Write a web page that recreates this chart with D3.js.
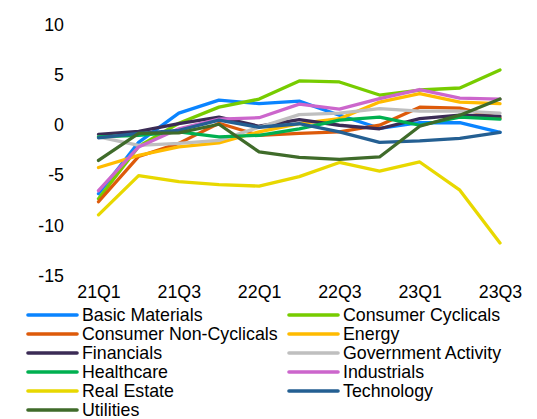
<!DOCTYPE html>
<html>
<head>
<meta charset="utf-8">
<script src="https://cdn.jsdelivr.net/npm/d3@7"></script>
<style>
  html, body { margin: 0; padding: 0; background: #fff; }
  svg { display: block; }
  text { font-family: "Liberation Sans", Arial, sans-serif; fill: #000; }
</style>
</head>
<body>
<svg id="chart" width="537" height="419"></svg>
<script>
const quarters = ["21Q1","21Q2","21Q3","21Q4","22Q1","22Q2","22Q3","22Q4","23Q1","23Q2","23Q3"];
const xTickLabels = ["21Q1","21Q3","22Q1","22Q3","23Q1","23Q3"];
const yTickValues = [-15, -10, -5, 0, 5, 10];

const seriesNames = ["Basic Materials","Consumer Cyclicals","Consumer Non-Cyclicals","Energy","Financials","Government Activity","Healthcare","Industrials","Real Estate","Technology","Utilities"];
const seriesColors = ["#0a84ff","#77cc00","#dd5a0a","#ffbb00","#3b2b55","#bfbfbf","#00b050","#cc66cc","#e8d800","#245f92","#3f6b2a"];

const basicMaterials      = [-6.9, -1.8,  1.1,  2.4,  2.05, 2.3,  0.9, -0.4,  0.15, 0.15, -0.8];
const consumerCyclicals   = [-7.4, -2.2,  0.1,  1.7,  2.5,  4.3,  4.2,  2.9,  3.4,  3.6,  5.4];
const consumerNonCyclical = [-7.7, -3.2, -1.9,  0.1, -1.1, -0.9, -0.75,-0.1,  1.7,  1.6,  0.6];
const energy              = [-4.3, -3.1, -2.25,-1.85,-0.75, 0.05, 0.55, 2.2,  3.05, 2.2,  2.05];
const financials          = [-1.0, -0.7,  0.05, 0.7, -0.2,  0.45,-0.1, -0.45, 0.55, 0.9,  0.8];
const governmentActivity  = [-1.25,-2.1, -1.9, -1.6, -0.3,  0.95, 1.1,  1.55, 1.3,  1.3,  1.1];
const healthcare          = [-1.25,-1.1, -0.75,-1.25,-1.1, -0.45, 0.4,  0.7, -0.1,  0.7,  0.5];
const industrials         = [-6.6, -2.25,-0.45, 0.5,  0.65, 2.0,  1.5,  2.55, 3.45, 2.6,  2.5];
const realEstate          = [-9.0, -5.1, -5.7, -6.0, -6.15,-5.2, -3.8, -4.65,-3.75,-6.55,-11.8];
const technology          = [-1.35,-0.9, -0.6,  0.4, -0.3,  0.05,-0.75,-1.8, -1.65,-1.4, -0.8];
const utilities           = [-3.6, -0.9, -0.85, 0.0, -2.75,-3.3, -3.5, -3.25,-0.2,  0.9,  2.5];

const seriesValues = [basicMaterials, consumerCyclicals, consumerNonCyclical, energy, financials,
  governmentActivity, healthcare, industrials, realEstate, technology, utilities];

const series = seriesNames.map((name, i) => ({
  name, color: seriesColors[i],
  values: seriesValues[i].map((v, j) => ({ q: quarters[j], v }))
}));

const svg = d3.select("#chart");
const x = d3.scalePoint().domain(quarters).range([98.5, 500]);
const y = d3.scaleLinear().domain([-15, 10]).range([275.2, 23.6]);
const fontSize = "17.8px";
const fontFamily = "'Liberation Sans', Arial, sans-serif";

// Y axis
const yAxis = svg.append("g")
  .attr("transform", "translate(64,0)")
  .call(d3.axisLeft(y).tickValues(yTickValues).tickSize(0).tickPadding(0).tickFormat(d => String(d)));
yAxis.select(".domain").remove();
yAxis.selectAll("text").attr("x", 0).attr("dy", "0.36em").style("font-size", fontSize)
  .style("font-family", fontFamily).attr("fill", "#000");

// X axis
const xAxis = svg.append("g")
  .attr("transform", "translate(0,292)")
  .call(d3.axisBottom(x).tickValues(xTickLabels).tickSize(0).tickPadding(0));
xAxis.select(".domain").remove();
xAxis.selectAll("text").attr("y", 0).attr("dy", "0.36em").style("font-size", fontSize)
  .style("font-family", fontFamily).attr("fill", "#000");

// Lines
const line = d3.line().x(d => x(d.q)).y(d => y(d.v));
svg.append("g").selectAll("path")
  .data(series)
  .join("path")
  .attr("d", d => line(d.values))
  .attr("fill", "none")
  .attr("stroke", d => d.color)
  .attr("stroke-width", 3.3)
  .attr("stroke-linejoin", "round")
  .attr("stroke-linecap", "round");

// Legend
const legend = svg.append("g");
const items = legend.selectAll("g")
  .data(series)
  .join("g")
  .attr("transform", (d, i) => {
    const col = i % 2, row = Math.floor(i / 2);
    return `translate(${col === 0 ? 28 : 289},${315 + row * 19})`;
  });
items.append("line")
  .attr("x1", 0).attr("x2", 49).attr("y1", 0).attr("y2", 0)
  .attr("stroke", d => d.color).attr("stroke-width", 3.6).attr("stroke-linecap", "round");
items.append("text")
  .attr("x", 54).attr("y", 0).attr("dy", "0.36em")
  .style("font-size", fontSize)
  .style("font-family", fontFamily)
  .text(d => d.name);
</script>
</body>
</html>
